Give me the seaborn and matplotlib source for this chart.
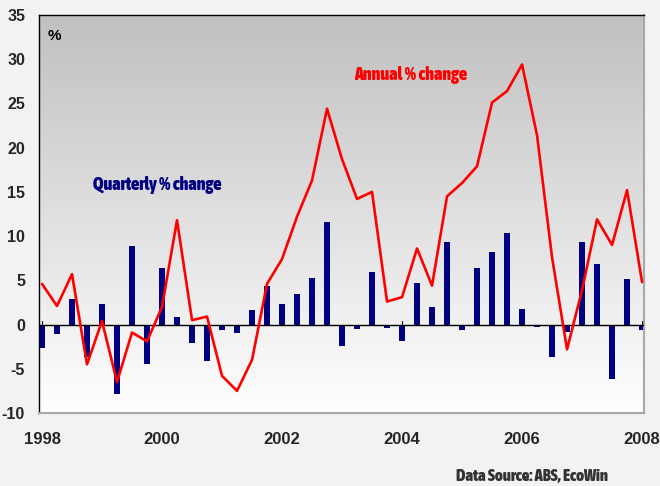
import numpy as np
import pandas as pd
import matplotlib
matplotlib.use("Agg")
import matplotlib.pyplot as plt
from matplotlib import font_manager
from matplotlib.colors import LinearSegmentedColormap
import seaborn as sns

# ---- data ----
quarter_index = list(range(41))  # 1998Q1 .. 2008Q1
quarterly_change = [-2.7, -1.1, 2.9, -3.65, 2.3, -7.9, 8.9, -4.5, 6.4, 0.8,
                    -2.1, -4.1, -0.6, -1.0, 1.6, 4.4, 2.3, 3.5, 5.3, 11.6,
                    -2.4, -0.5, 5.9, -0.4, -1.9, 4.7, 2.0, 9.3, -0.6, 6.4,
                    8.2, 10.4, 1.8, -0.3, -3.7, -0.8, 9.3, 6.9, -6.2, 5.1, -0.6]
annual_change = [4.6, 2.1, 5.7, -4.5, 0.4, -6.5, -0.9, -1.9, 2.0, 11.8,
                 0.5, 0.9, -5.8, -7.5, -4.0, 4.6, 7.4, 12.2, 16.3, 24.4,
                 18.7, 14.2, 15.0, 2.6, 3.1, 8.6, 4.4, 14.5, 16.0, 17.9,
                 25.1, 26.4, 29.4, 21.4, 7.6, -2.8, 3.9, 11.9, 9.0, 15.2, 4.8]
year_ticks = [0, 8, 16, 24, 32, 40]
year_labels = ["1998", "2000", "2002", "2004", "2006", "2008"]
y_ticks = [-10, -5, 0, 5, 10, 15, 20, 25, 30, 35]

df = pd.DataFrame({"q": quarter_index, "quarterly": quarterly_change,
                   "annual": annual_change})

sns.set_style("white")
plt.rcParams["font.family"] = ["Liberation Sans", "DejaVu Sans"]


def is_bold(w):
    if isinstance(w, (int, float)):
        return w >= 600
    return str(w).lower() in ("bold", "heavy", "black", "extra bold", "demibold", "semibold")


def is_cond(st):
    if isinstance(st, (int, float)):
        return st < 500
    return "condensed" in str(st).lower()


fonts = font_manager.fontManager.ttflist
cond_fname = None
for f in fonts:
    if ("Narrow" in f.name or "Condensed" in f.name) and is_bold(f.weight):
        cond_fname = f.fname
        break
if cond_fname is None:
    for f in fonts:
        if is_cond(f.stretch) and is_bold(f.weight):
            cond_fname = f.fname
            break


def cprops(size):
    if cond_fname is not None:
        return font_manager.FontProperties(fname=cond_fname, size=size)
    return font_manager.FontProperties(family=["Liberation Sans", "DejaVu Sans"],
                                       weight="bold", size=size * 0.8)


fig = plt.figure(figsize=(6.6, 4.86), dpi=100, facecolor="#f2f2f2")
ax = fig.add_axes([39/660, 1-413/486, (644-39)/660, (413-15)/486])

xmin, xmax = -0.2, 40.13
ymin, ymax = -10, 35

# gradient background
cmap = LinearSegmentedColormap.from_list("g", ["#ffffff", "#c0c0c0"])
grad = np.linspace(0, 1, 256).reshape(-1, 1)
ax.imshow(grad, extent=[xmin, xmax, ymin, ymax], origin="lower", aspect="auto",
          cmap=cmap, zorder=0)

sns.barplot(data=df, x="q", y="quarterly", native_scale=True, width=0.4,
            color="#000080", saturation=1, linewidth=0, ax=ax, zorder=2)
ax.axhline(0, color="black", lw=1.0, zorder=3)
sns.lineplot(data=df, x="q", y="annual", color="#ff0000", lw=1.9, ax=ax, zorder=4)

for t in year_ticks:
    ax.plot([t, t], [0, 0.35], color="black", lw=0.8, zorder=3)

ax.set_xlim(xmin, xmax)
ax.set_ylim(ymin, ymax)
ax.set_xlabel("")
ax.set_ylabel("")
ax.set_yticks(y_ticks)
ax.set_yticklabels([str(v) for v in y_ticks], fontsize=11.5, fontweight="bold")
ax.set_xticks(year_ticks)
ax.set_xticklabels(year_labels, fontsize=12, fontweight="bold")
ax.tick_params(axis="y", direction="in", length=4, width=0.8, pad=10, color="black")
ax.tick_params(axis="x", length=0, pad=14)

for s in ["left", "top"]:
    ax.spines[s].set_color("black")
    ax.spines[s].set_linewidth(1.0)
for s in ["bottom", "right"]:
    ax.spines[s].set_color("#a8a8a8")
    ax.spines[s].set_linewidth(1.5)

ax.text(0.4, 32.2, "%", fontsize=11, fontweight="bold", color="black", zorder=5)
ax.text(24.6, 28.2, "Annual % change", fontproperties=cprops(13), color="#ff0000",
        ha="center", va="center", zorder=5)
ax.text(7.65, 15.8, "Quarterly % change", fontproperties=cprops(13), color="#000080",
        ha="center", va="center", zorder=5)
fig.text(608/660, 1-476/486, "Data Source: ABS, EcoWin", fontproperties=cprops(12),
         color="#333333", ha="right", va="center")

fig.savefig("out.png", dpi=100, facecolor=fig.get_facecolor())
